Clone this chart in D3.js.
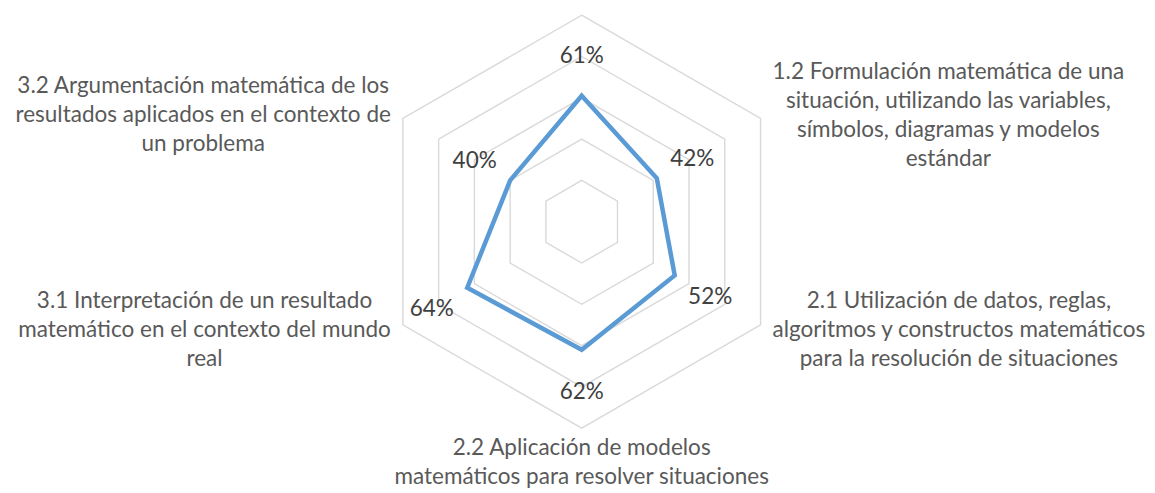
<!DOCTYPE html>
<html>
<head>
<meta charset="utf-8">
<script src="https://cdn.jsdelivr.net/npm/d3@7"></script>
<style>
  body { margin: 0; background: #fff; }
  svg { display: block; }
  text { font-family: Lato, "Open Sans", sans-serif; }
</style>
</head>
<body>
<svg id="radar" width="1155" height="493"></svg>
<script>
// axis labels, clockwise from the top (the top one is cut off in the source)
const categories = [
  [""],
  ["1.2 Formulación matemática de una", "situación, utilizando las variables,", "símbolos, diagramas y modelos", "estándar"],
  ["2.1 Utilización de datos, reglas,", "algoritmos y constructos matemáticos", "para la resolución de situaciones"],
  ["2.2 Aplicación de modelos", "matemáticos para resolver situaciones"],
  ["3.1 Interpretación de un resultado", "matemático en el contexto del mundo", "real"],
  ["3.2 Argumentación matemática de los", "resultados aplicados en el contexto de", "un problema"]
];
const values = [0.61, 0.42, 0.52, 0.62, 0.64, 0.40];
const gridLevels = [0.2, 0.4, 0.6, 0.8, 1.0];

const svg = d3.select("#radar");
const cx = 581.7, cy = 221.7, radius = 206.5;
const g = svg.append("g").attr("transform", "translate(" + cx + "," + cy + ")");

const r = d3.scaleLinear().domain([0, 1]).range([0, radius]);
const angle = d3.scaleLinear().domain([0, categories.length]).range([0, 2 * Math.PI]);

function pt(i, v) {
  const a = angle(i);
  return [Math.sin(a) * r(v), -Math.cos(a) * r(v)];
}

// grid hexagons
const ring = d3.lineRadial()
  .angle(function(d, i) { return angle(i); })
  .radius(function(d) { return r(d); })
  .curve(d3.curveLinearClosed);

g.selectAll(".grid")
  .data(gridLevels)
  .enter().append("path")
    .attr("class", "grid")
    .attr("d", function(lv) { return ring(categories.map(function() { return lv; })); })
    .attr("fill", "none")
    .attr("stroke", "#d9d9d9")
    .attr("stroke-width", 1.4);

// data series
g.append("path")
  .datum(values)
  .attr("d", ring)
  .attr("fill", "none")
  .attr("stroke", "#5b9bd5")
  .attr("stroke-width", 4.5)
  .attr("stroke-linejoin", "miter");

// value labels, pushed out along each axis
g.selectAll(".val")
  .data(values)
  .enter().append("text")
    .attr("class", "val")
    .attr("x", function(d, i) { return Math.sin(angle(i)) * (r(d) + 41); })
    .attr("y", function(d, i) { return -Math.cos(angle(i)) * (r(d) + 41); })
    .attr("dy", "0.35em")
    .attr("text-anchor", "middle")
    .style("font-size", "22.5px")
    .attr("fill", "#404040")
    .text(function(d) { return d3.format(".0%")(d); });

// category labels outside the outer ring
const lineH = 29;
categories.forEach(function(lines, i) {
  const p = pt(i, 1);
  const s = Math.sin(angle(i));
  const c = Math.cos(angle(i));
  const t = g.append("text")
    .attr("class", "cat")
    .attr("text-anchor", "middle")
    .style("font-size", "22.5px")
    .attr("fill", "#595959");
  const spans = t.selectAll("tspan")
    .data(lines)
    .enter().append("tspan")
      .text(function(d) { return d; });
  let w = 0;
  spans.each(function() { w = Math.max(w, this.getComputedTextLength()); });
  let x, y0;
  if (Math.abs(s) < 0.01) {
    x = p[0];
    y0 = p[1] < 0 ? p[1] - 12 - (lines.length - 1) * lineH : p[1] + 19;
  } else {
    x = s > 0 ? p[0] + 12 + w / 2 : p[0] - 12 - w / 2;
    y0 = p[1] - c * 8 - (lines.length - 1) * lineH / 2;
  }
  spans.attr("x", x)
    .attr("y", function(d, j) { return y0 + j * lineH; })
    .attr("dy", "0.35em");
});
</script>
</body>
</html>
